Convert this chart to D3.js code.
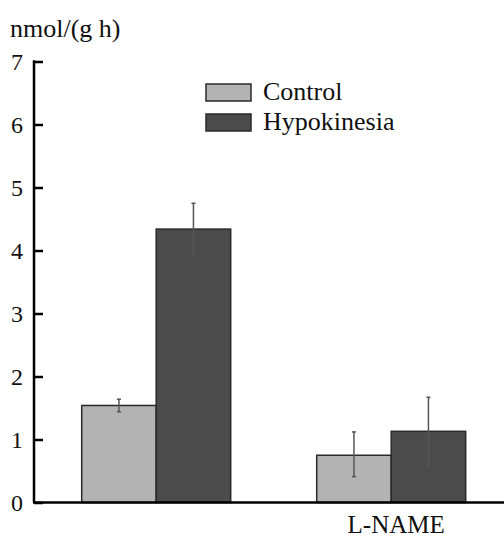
<!DOCTYPE html>
<html>
<head>
<meta charset="utf-8">
<script src="https://cdn.jsdelivr.net/npm/d3@7"></script>
</head>
<body style="margin:0;background:#fff">
<div id="chart"></div>
<script>
var categories = ["", "L-NAME"];
var seriesNames = ["Control", "Hypokinesia"];
var controlValues = [1.54, 0.75];
var controlLow = [1.44, 0.41];
var controlHigh = [1.64, 1.12];
var hypoValues = [4.34, 1.13];
var hypoLow = [3.95, 0.59];
var hypoHigh = [4.75, 1.67];
var yTicks = [0, 1, 2, 3, 4, 5, 6, 7];

var width = 504, height = 537;
var colors = { "Control": "#b3b3b3", "Hypokinesia": "#4b4b4b" };

function font(size) {
    return "font: " + size + "px Tinos, 'Times New Roman', 'Liberation Serif', serif; fill: #111";
}

var svg = d3.select("#chart").append("svg")
    .attr("width", width)
    .attr("height", height);

var y = d3.scaleLinear().domain([0, 7]).range([502.5, 61.5]);

var x0 = d3.scaleBand()
    .domain(categories)
    .range([38.7, 508.7])
    .paddingInner(0.366)
    .paddingOuter(0.183);

var x1 = d3.scaleBand()
    .domain(seriesNames)
    .range([0, x0.bandwidth()]);

// build rows from the arrays
var rows = [];
categories.forEach(function(c, i) {
    rows.push({ cat: c, series: "Control", v: controlValues[i], lo: controlLow[i], hi: controlHigh[i] });
    rows.push({ cat: c, series: "Hypokinesia", v: hypoValues[i], lo: hypoLow[i], hi: hypoHigh[i] });
});

svg.selectAll("rect.bar")
    .data(rows)
    .enter().append("rect")
    .attr("class", "bar")
    .attr("x", function(d) { return x0(d.cat) + x1(d.series); })
    .attr("y", function(d) { return y(d.v); })
    .attr("width", x1.bandwidth())
    .attr("height", function(d) { return y(0) - y(d.v); })
    .style("fill", function(d) { return colors[d.series]; })
    .style("stroke", "#2a2a2a")
    .style("stroke-width", 1.5);

var err = svg.selectAll("g.err")
    .data(rows)
    .enter().append("g")
    .attr("class", "err")
    .attr("transform", function(d) {
        return "translate(" + (x0(d.cat) + x1(d.series) + x1.bandwidth() / 2) + ",0)";
    });

err.append("line")
    .attr("x1", 0).attr("x2", 0)
    .attr("y1", function(d) { return y(d.lo); })
    .attr("y2", function(d) { return y(d.hi); })
    .style("stroke", "#555")
    .style("stroke-width", 1.5);

err.selectAll("line.cap")
    .data(function(d) { return [d.lo, d.hi]; })
    .enter().append("line")
    .attr("class", "cap")
    .attr("x1", -2).attr("x2", 2)
    .attr("y1", function(v) { return y(v); })
    .attr("y2", function(v) { return y(v); })
    .style("stroke", "#555")
    .style("stroke-width", 1.5);

// y axis
var yAxis = d3.axisRight(y).tickValues(yTicks).tickSize(9).tickFormat("");
var gy = svg.append("g")
    .attr("transform", "translate(34,0)")
    .call(yAxis);
gy.select(".domain").remove();
gy.selectAll(".tick line").style("stroke", "#000").style("stroke-width", 2.5);
gy.append("line")
    .attr("x1", 0).attr("x2", 0)
    .attr("y1", y(7) - 1.2).attr("y2", y(0))
    .style("stroke", "#000").style("stroke-width", 2.5);

svg.selectAll("text.ytick")
    .data(yTicks)
    .enter().append("text")
    .attr("class", "ytick")
    .attr("x", 23)
    .attr("y", function(d) { return y(d); })
    .attr("dy", "0.35em")
    .attr("text-anchor", "end")
    .attr("style", font(24))
    .text(function(d) { return d; });

// x axis
svg.append("line")
    .attr("x1", 33).attr("x2", width)
    .attr("y1", y(0)).attr("y2", y(0))
    .style("stroke", "#000").style("stroke-width", 2.5);

svg.selectAll("text.xlab")
    .data(categories)
    .enter().append("text")
    .attr("class", "xlab")
    .attr("x", function(d) { return x0(d) + x0.bandwidth() / 2 + 5; })
    .attr("y", 533)
    .attr("text-anchor", "middle")
    .attr("style", font(25))
    .text(function(d) { return d; });

// unit label
svg.append("text")
    .attr("x", 10)
    .attr("y", 37)
    .attr("style", font(26))
    .text("nmol/(g h)");

// legend
var legend = svg.selectAll("g.legend")
    .data(seriesNames)
    .enter().append("g")
    .attr("class", "legend")
    .attr("transform", function(d, i) { return "translate(206," + (84 + i * 30) + ")"; });

legend.append("rect")
    .attr("width", 45)
    .attr("height", 17)
    .style("fill", function(d) { return colors[d]; })
    .style("stroke", "#2a2a2a")
    .style("stroke-width", 1.5);

legend.append("text")
    .attr("x", 57)
    .attr("y", 16)
    .attr("style", font(26))
    .text(function(d) { return d; });
</script>
</body>
</html>
